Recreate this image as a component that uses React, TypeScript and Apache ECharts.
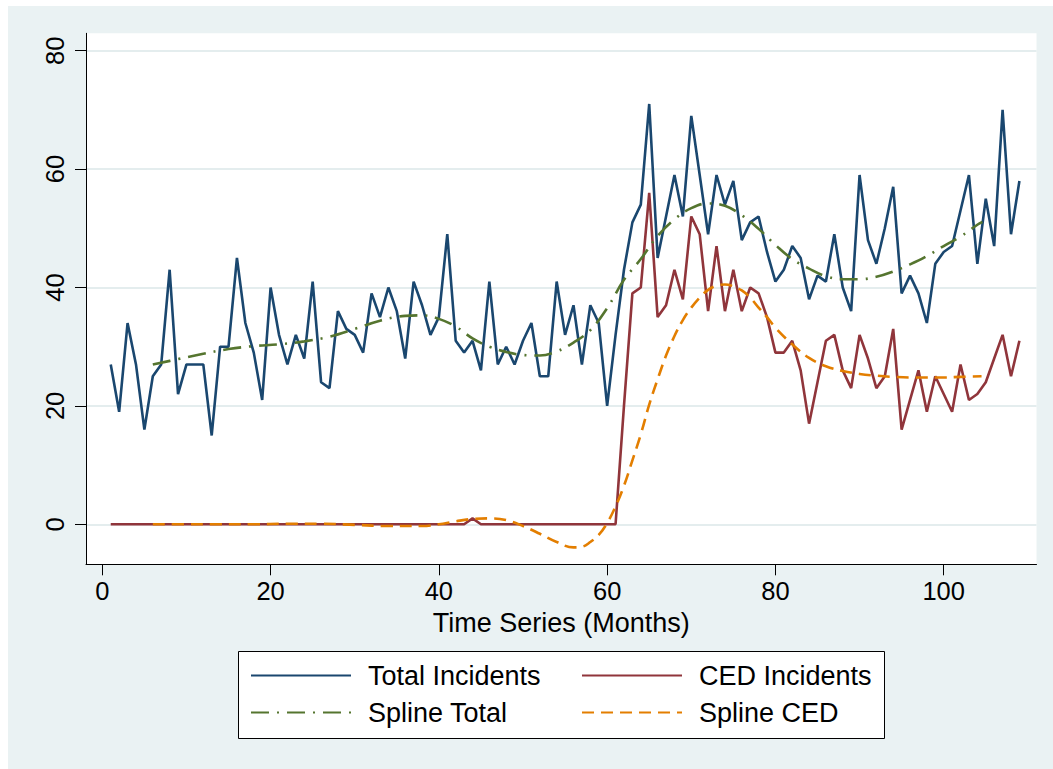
import React, { useEffect, useRef } from "react";
import * as echarts from "echarts";

// Monthly counts, months 1..109
const totalIncidents = [
  27, 19, 34, 27, 16, 25, 27, 43, 22, 27,
  27, 27, 15, 30, 30, 45, 34, 29, 21, 40,
  32, 27, 32, 28, 41, 24, 23, 36, 33, 32,
  29, 39, 35, 40, 36, 28, 41, 37, 32, 35,
  49, 31, 29, 31, 26, 41, 27, 30, 27, 31,
  34, 25, 25, 41, 32, 37, 27, 37, 34, 20,
  32, 43, 51, 54, 71, 45, 52, 59, 52, 69,
  59, 49, 59, 54, 58, 48, 51, 52, 46, 41,
  43, 47, 45, 38, 42, 41, 49, 40, 36, 59,
  48, 44, 50, 57, 39, 42, 39, 34, 44, 46,
  47, 53, 59, 44, 55, 47, 70, 49, 58,
];

const cedIncidents = [
  0, 0, 0, 0, 0, 0, 0, 0, 0, 0,
  0, 0, 0, 0, 0, 0, 0, 0, 0, 0,
  0, 0, 0, 0, 0, 0, 0, 0, 0, 0,
  0, 0, 0, 0, 0, 0, 0, 0, 0, 0,
  0, 0, 0, 1, 0, 0, 0, 0, 0, 0,
  0, 0, 0, 0, 0, 0, 0, 0, 0, 0,
  0, 20, 39, 40, 56, 35, 37, 43, 38, 52,
  49, 36, 47, 36, 43, 36, 40, 39, 35, 29,
  29, 31, 26, 17, 24, 31, 32, 26, 23, 32,
  28, 23, 25, 33, 16, 21, 26, 19, 25, 22,
  19, 27, 21, 22, 24, 28, 32, 25, 31,
];

// Spline curves: [month, value]
const splineTotal: [number, number][] = [
  [6, 27.0], [9, 27.9], [12, 28.8], [15, 29.6], [18, 30.1], [21, 30.4],
  [24, 30.9], [27, 31.7], [30, 33.0], [33, 34.4], [36, 35.2], [38, 35.3],
  [40, 34.7], [42, 33.4], [44, 31.4], [46, 30.0], [48, 29.1], [50, 28.6],
  [52, 28.5], [54, 29.2], [56, 30.7], [58, 32.8], [60, 36.5], [62, 41.3],
  [64, 44.8], [66, 48.7], [68, 51.5], [70, 53.4], [72, 54.2], [74, 53.8],
  [76, 52.2], [78, 49.9], [80, 47.2], [82, 44.8], [84, 43.2], [86, 41.9],
  [88, 41.4], [90, 41.4], [92, 41.8], [94, 42.7], [96, 43.9], [98, 45.3],
  [100, 47.0], [102, 48.6], [104, 50.6], [104.6, 51.1],
];

const splineCed: [number, number][] = [
  [6, 0], [10, 0], [14, 0], [18, 0], [22, 0.1], [26, 0.1], [30, -0.1],
  [34, -0.3], [38, -0.3], [40, 0], [42, 0.5], [44, 0.9], [46, 1.0],
  [48, 0.7], [50, -0.3], [52, -1.6], [54, -3.0], [56, -3.9], [57, -3.8],
  [58, -3.0], [59, -1.8], [60, 0.2], [61, 3.0], [62, 6.5], [63, 10.8],
  [64, 15.2], [65, 20.2], [66, 24.5], [67, 28.5], [68, 31.8], [69, 34.5],
  [70, 36.6], [71, 38.3], [72, 39.6], [73, 40.3], [74, 40.5], [75, 40.2],
  [76, 39.5], [77, 38.3], [78, 36.6], [79, 35.0], [80, 33.2], [82, 30.4],
  [84, 28.1], [86, 26.7], [88, 25.9], [90, 25.4], [92, 25.1], [94, 24.9],
  [96, 24.8], [98, 24.8], [100, 24.8], [102, 24.9], [104.5, 25.0],
];

const xTicks = [0, 20, 40, 60, 80, 100];
const yTicks = [0, 20, 40, 60, 80];

const seriesNames = ["Total Incidents", "CED Incidents", "Spline Total", "Spline CED"];
const colors = ["#1A476F", "#90353B", "#55752F", "#E37E00"];

const FONT = "'Liberation Sans', Arial, Helvetica, sans-serif";

export default function App() {
  const ref = useRef<HTMLDivElement>(null);

  useEffect(() => {
    if (!ref.current) return;
    const chart = echarts.init(ref.current, undefined, { renderer: "svg" });

    const legendCommon = {
      orient: "horizontal" as const,
      padding: 0,
      itemWidth: 100,
      itemHeight: 14,
      itemGap: 0,
      selectedMode: false,
      itemStyle: { opacity: 0 },
      textStyle: {
        fontSize: 27,
        color: "#000",
        fontFamily: FONT,
        padding: [0, 0, 0, 12],
      },
    };

    chart.setOption({
      animation: false,
      backgroundColor: "#EAF2F3",
      color: colors,
      grid: {
        left: 78,
        top: 27.3,
        width: 950.5,
        height: 531,
        show: true,
        backgroundColor: "#FFFFFF",
        borderWidth: 0,
        containLabel: false,
      },
      graphic: [
        {
          type: "rect",
          left: 230,
          top: 645,
          shape: { width: 646, height: 87 },
          style: { fill: "#FFFFFF", stroke: "#000000", lineWidth: 1 },
          z: 1,
        },
      ],
      legend: [
        { ...legendCommon, data: [seriesNames[0]], left: 242, top: 656 },
        { ...legendCommon, data: [seriesNames[1]], left: 573, top: 656 },
        { ...legendCommon, data: [seriesNames[2]], left: 242, top: 693 },
        { ...legendCommon, data: [seriesNames[3]], left: 573, top: 693 },
      ],
      xAxis: {
        type: "value",
        min: -1.94,
        max: 111.03,
        name: "Time Series (Months)",
        nameLocation: "middle",
        nameGap: 41,
        nameTextStyle: { fontSize: 27, color: "#000", fontFamily: FONT },
        axisLine: { show: true, onZero: false, lineStyle: { color: "#000", width: 1 } },
        axisTick: {
          show: true,
          length: 11,
          customValues: xTicks,
          lineStyle: { color: "#000", width: 1 },
        },
        axisLabel: {
          customValues: xTicks,
          fontSize: 25.5,
          margin: 14,
          color: "#000",
          fontFamily: FONT,
        },
        splitLine: { show: false },
      },
      yAxis: {
        type: "value",
        min: -6.76,
        max: 82.94,
        axisLine: { show: true, onZero: false, lineStyle: { color: "#000", width: 1 } },
        axisTick: {
          show: true,
          length: 11,
          customValues: yTicks,
          lineStyle: { color: "#000", width: 1 },
        },
        axisLabel: {
          customValues: yTicks,
          rotate: 90,
          fontSize: 25.5,
          margin: 18,
          color: "#000",
          fontFamily: FONT,
        },
        splitLine: { show: true, lineStyle: { color: "#E4EDEE", width: 2 } },
      },
      series: [
        {
          name: seriesNames[0],
          type: "line",
          data: totalIncidents.map((v, i) => [i + 1, v]),
          showSymbol: false,
          symbol: "none",
          lineStyle: { color: colors[0], width: 2.6 },
          z: 2,
        },
        {
          name: seriesNames[1],
          type: "line",
          data: cedIncidents.map((v, i) => [i + 1, v]),
          showSymbol: false,
          symbol: "none",
          lineStyle: { color: colors[1], width: 2.6 },
          z: 3,
        },
        {
          name: seriesNames[2],
          type: "line",
          data: splineTotal,
          smooth: 0.4,
          showSymbol: false,
          symbol: "none",
          lineStyle: { color: colors[2], width: 2.6, type: [18, 8, 2, 8] },
          z: 4,
        },
        {
          name: seriesNames[3],
          type: "line",
          data: splineCed,
          smooth: 0.4,
          showSymbol: false,
          symbol: "none",
          lineStyle: { color: colors[3], width: 2.6, type: [12, 7] },
          z: 5,
        },
      ],
    });

    return () => chart.dispose();
  }, []);

  return (
    <div style={{ position: "fixed", left: 0, top: 0, width: 1053, height: 769, background: "#FFFFFF" }}>
      <div ref={ref} style={{ position: "absolute", left: 8, top: 6, width: 1045, height: 763 }} />
    </div>
  );
}
